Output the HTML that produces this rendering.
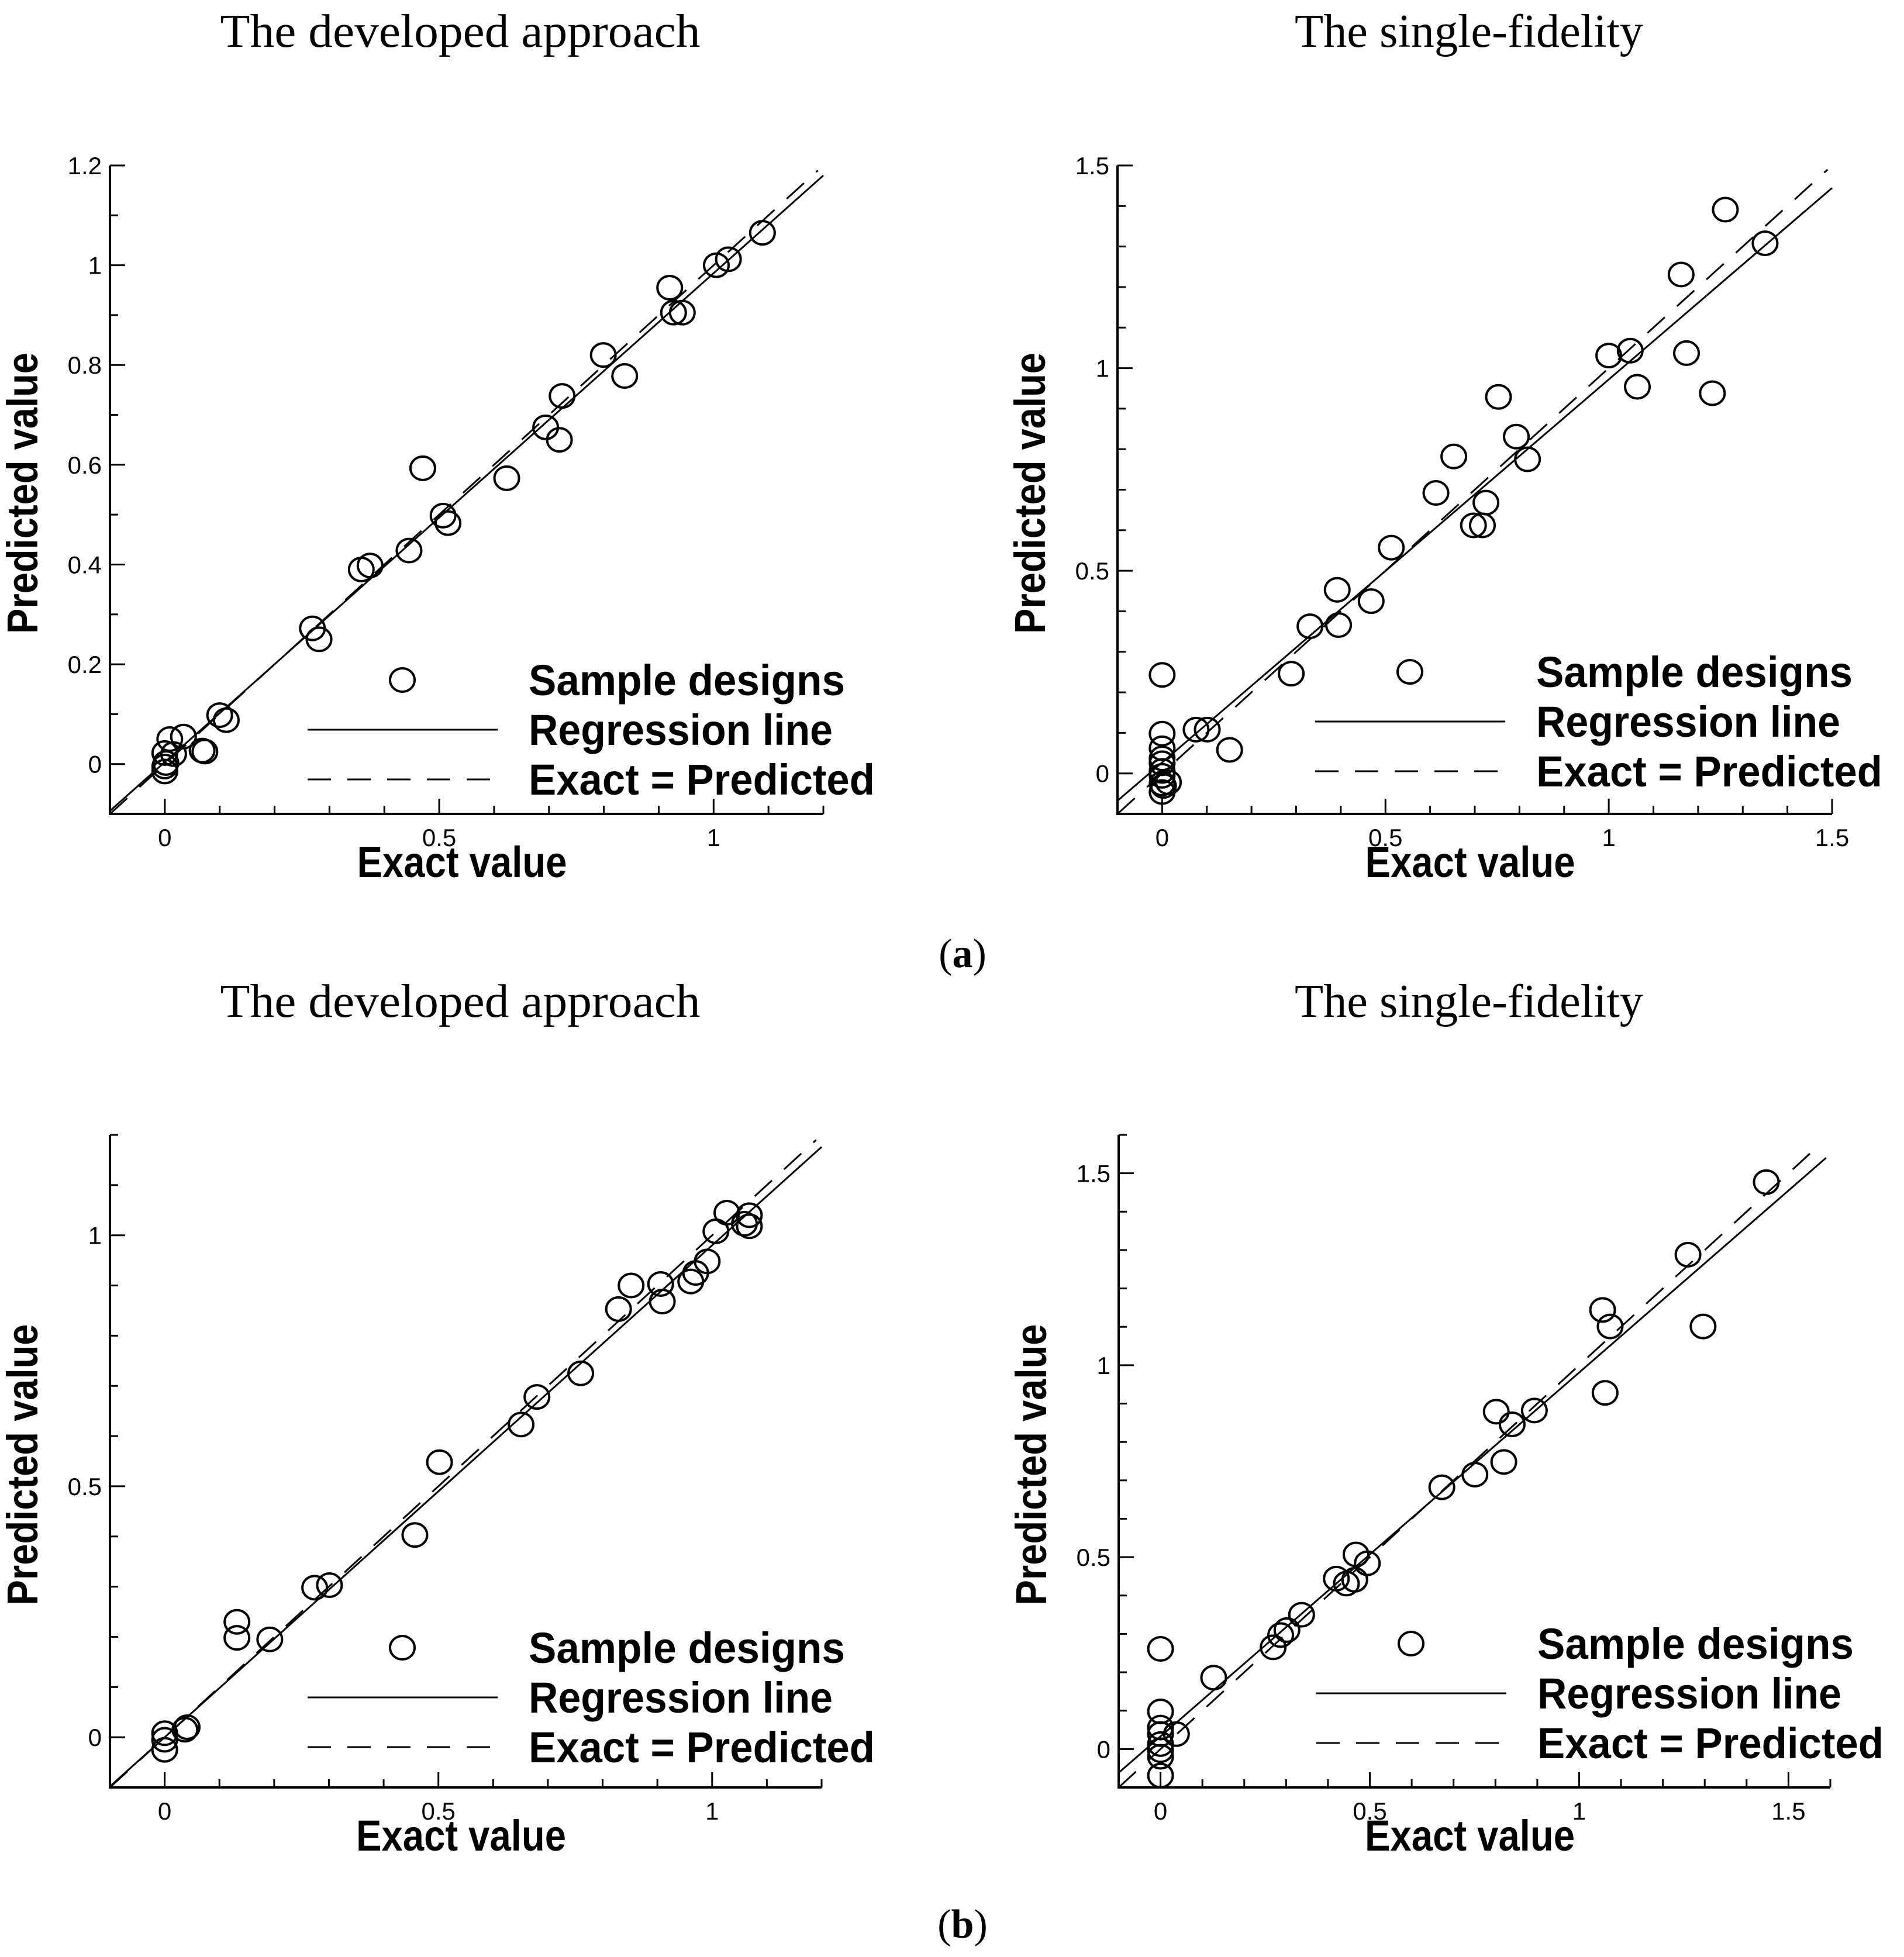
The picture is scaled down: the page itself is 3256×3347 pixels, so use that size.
<!DOCTYPE html>
<html><head><meta charset="utf-8"><style>
html,body{margin:0;padding:0;background:#fff;}
svg{display:block;}
.tick{font-family:"Liberation Sans",sans-serif;font-size:42px;fill:#000;}
.atitle{font-family:"Liberation Sans",sans-serif;font-weight:bold;font-size:74px;fill:#000;}
.leg{font-family:"Liberation Sans",sans-serif;font-weight:bold;font-size:74px;fill:#000;}
.ptitle{font-family:"Liberation Serif",serif;font-size:80px;fill:#000;}
.sub{font-family:"Liberation Serif",serif;font-size:70px;fill:#000;}
</style></head><body>
<svg id="fig" width="3256" height="3347" viewBox="0 0 3256 3347" xmlns="http://www.w3.org/2000/svg">
<text class="ptitle" x="787" y="80" text-anchor="middle" textLength="821" lengthAdjust="spacingAndGlyphs">The developed approach</text>
<text class="ptitle" x="2512" y="80" text-anchor="middle" textLength="596" lengthAdjust="spacingAndGlyphs">The single-fidelity</text>
<text class="ptitle" x="787" y="1739" text-anchor="middle" textLength="821" lengthAdjust="spacingAndGlyphs">The developed approach</text>
<text class="ptitle" x="2512" y="1739" text-anchor="middle" textLength="596" lengthAdjust="spacingAndGlyphs">The single-fidelity</text>
<text class="sub" x="1646" y="1654" text-anchor="middle">(<tspan font-weight="bold">a</tspan>)</text>
<text class="sub" x="1646" y="3314" text-anchor="middle">(<tspan font-weight="bold">b</tspan>)</text>
</svg>
<script>
// ---- data ----
const p1X=[0,0,0.002,0,0.009,0.016,0.034,0.068,0.073,0.100,0.112,0.269,0.281,0.358,0.374,0.445,0.470,0.507,0.516,0.623,0.694,0.719,0.724,0.799,0.838,0.920,0.927,0.943,1.005,1.027,1.089];
const p1Y=[-0.005,-0.015,0.002,0.022,0.05,0.02,0.055,0.027,0.025,0.098,0.088,0.272,0.25,0.39,0.398,0.428,0.593,0.498,0.483,0.573,0.675,0.65,0.738,0.82,0.778,0.955,0.905,0.905,1.0,1.012,1.065];
const p2X=[0,0,0,0,0,0,0,0,0.003,0,0.014,0.076,0.101,0.151,0.289,0.331,0.392,0.395,0.468,0.513,0.613,0.653,0.697,0.717,0.725,0.753,0.793,0.818,1.000,1.048,1.064,1.162,1.174,1.232,1.261,1.350];
const p2Y=[0.243,0.098,0.062,0.037,0.025,0.006,-0.006,-0.025,-0.031,-0.046,-0.022,0.108,0.108,0.058,0.246,0.363,0.453,0.366,0.425,0.557,0.692,0.782,0.612,0.612,0.668,0.929,0.831,0.775,1.031,1.043,0.954,1.231,1.037,0.938,1.391,1.308];
const p3X=[0,0,0,0.037,0.041,0.132,0.132,0.192,0.274,0.301,0.457,0.502,0.651,0.680,0.760,0.829,0.852,0.906,0.909,0.961,0.970,0.991,1.007,1.027,1.059,1.068,1.068];
const p3Y=[0.008,-0.005,-0.025,0.015,0.02,0.23,0.198,0.195,0.298,0.303,0.403,0.548,0.623,0.678,0.725,0.853,0.9,0.903,0.868,0.908,0.925,0.948,1.008,1.045,1.023,1.04,1.018];
const p4X=[0,0,0,0,0,0,0,0,0.038,0.127,0.269,0.287,0.302,0.337,0.420,0.444,0.464,0.467,0.494,0.672,0.751,0.802,0.820,0.840,0.893,1.056,1.062,1.074,1.260,1.296,1.447];
const p4Y=[0.261,0.098,0.056,0.039,0.013,-0.003,-0.02,-0.069,0.039,0.186,0.265,0.297,0.31,0.35,0.444,0.431,0.441,0.507,0.484,0.682,0.715,0.879,0.748,0.846,0.882,1.144,0.928,1.101,1.288,1.101,1.477];
const regSlope=[0.98,0.945,0.98,0.948];
const regIntercept=[0.004,0.027,0.0,0.033];
const xTicks1=["0","0.5","1"];
const yTicks1=["0","0.2","0.4","0.6","0.8","1","1.2"];
const xTicks2=["0","0.5","1","1.5"];
const yTicks2=["0","0.5","1","1.5"];
const yTicks3=["0","0.5","1"];
const xTicks4=["0","0.5","1","1.5"];
const yTicks4=["0","0.5","1","1.5"];

const NS="http://www.w3.org/2000/svg";
const svg=document.getElementById('fig');
function mk(tag,attrs,parent){const e=document.createElementNS(NS,tag);for(const k in attrs)e.setAttribute(k,attrs[k]);(parent||svg).appendChild(e);return e;}

const panels=[
 {id:'a-left',L:188,R:1408,T:283,B:1392,x0:-0.1,x1:1.2,y0:-0.1,y1:1.2,xs:p1X,ys:p1Y,xt:xTicks1,yt:yTicks1,xmax:1.2,dend:1.19,yT:0.2,lo:229},
 {id:'a-right',L:1911,R:3133,T:283,B:1392,x0:-0.1,x1:1.5,y0:-0.1,y1:1.5,xs:p2X,ys:p2Y,xt:xTicks2,yt:yTicks2,xmax:1.5,dend:1.49,lo:243},
 {id:'b-left',L:188,R:1405,T:1941,B:3057,x0:-0.1,x1:1.2,y0:-0.1,y1:1.2,xs:p3X,ys:p3Y,xt:xTicks1,yt:yTicks3,xmax:1.2,dend:1.19,lo:239},
 {id:'b-right',L:1913,R:3130,T:1941,B:3057,x0:-0.1,x1:1.6,y0:-0.1,y1:1.6,xs:p4X,ys:p4Y,xt:xTicks4,yt:yTicks4,xmax:1.59,dend:1.58,lo:246}
];
const legTexts=['Sample designs','Regression line','Exact = Predicted'];
const legLens=[541,520,592];
panels.forEach((p,i)=>{
  const g=mk('g',{});
  
  
  const sx=v=>p.L+(v-p.x0)/(p.x1-p.x0)*(p.R-p.L);
  const sy=v=>p.B-(v-p.y0)/(p.y1-p.y0)*(p.B-p.T);
  const ax=mk('path',{d:`M${p.L},${p.T}V${p.B}H${p.R}`,fill:'none',stroke:'#000','stroke-width':4},g);
   
  for(let k=0;k<=Math.round((p.x1-p.x0)*10);k++){const v=p.x0+k*0.1;const X=sx(v);
    const major=Math.abs(v*2-Math.round(v*2))<1e-6;
    const t=mk('line',{x1:X,x2:X,y1:p.B,y2:p.B-(major?26:14),stroke:'#000','stroke-width':3},g);
     }
  const ystep=p.yT||0.5;
  for(let k=0;k<=Math.round((p.y1-p.y0)*10);k++){const v=p.y0+k*0.1;const Y=sy(v);
    const major=Math.abs(v/ystep-Math.round(v/ystep))<1e-6;
    const t=mk('line',{x1:p.L,x2:p.L+(major?26:14),y1:Y,y2:Y,stroke:'#000','stroke-width':3},g);
     }
  p.xt.forEach(s=>{const t=mk('text',{x:sx(parseFloat(s)),y:p.B+55,'text-anchor':'middle',class:'tick'},g);t.textContent=s;
     });
  p.yt.forEach(s=>{const t=mk('text',{x:p.L-14,y:sy(parseFloat(s))+15,'text-anchor':'end',class:'tick'},g);t.textContent=s;
     });
  const xtl=mk('text',{x:(p.L+p.R)/2-8,y:p.B+108,'text-anchor':'middle',class:'atitle',textLength:359,lengthAdjust:'spacingAndGlyphs'},g);xtl.textContent='Exact value';
   
  const cx=p.L-124, cy=(p.T+p.B)/2+6;
  const ytl=mk('text',{x:cx,y:cy,'text-anchor':'middle',class:'atitle',textLength:481,lengthAdjust:'spacingAndGlyphs',transform:`rotate(-90 ${cx} ${cy})`},g);ytl.textContent='Predicted value';
   
  const m=regSlope[i], b=regIntercept[i];
  let xs0=p.x0, ys0=m*xs0+b; if(ys0<p.y0){xs0=(p.y0-b)/m; ys0=p.y0;}
  const rl=mk('line',{x1:sx(xs0),y1:sy(ys0),x2:sx(p.xmax),y2:sy(m*p.xmax+b),stroke:'#000','stroke-width':3},g);
   
  const dl=mk('line',{x1:sx(p.x0),y1:sy(p.y0),x2:sx(p.dend),y2:sy(p.dend),stroke:'#000','stroke-width':3,'stroke-dasharray':'40 28'},g);
   
  p.xs.forEach((v,j)=>{const c=mk('ellipse',{cx:sx(v),cy:sy(p.ys[j]),rx:21,ry:20,fill:'none',stroke:'#000','stroke-width':4},g);
     });
  const lx=p.L+338, tx=lx+378;
  const ly=p.B-p.lo;
  const lg=mk('g',{},g);  
  const ls=mk('ellipse',{cx:lx+162,cy:ly,rx:21,ry:20,fill:'none',stroke:'#000','stroke-width':4},lg);
   
  const l2=mk('line',{x1:lx,x2:lx+325,y1:ly+85,y2:ly+85,stroke:'#000','stroke-width':3},lg);
   
  const l3=mk('line',{x1:lx,x2:lx+325,y1:ly+170,y2:ly+170,stroke:'#000','stroke-width':3,'stroke-dasharray':'40 28'},lg);
   
  legTexts.forEach((s,k)=>{
    const t=mk('text',{x:tx,y:ly+26+k*85,class:'leg',textLength:legLens[k],lengthAdjust:'spacingAndGlyphs'},lg);t.textContent=s;
     });
});
</script>
</body></html>
